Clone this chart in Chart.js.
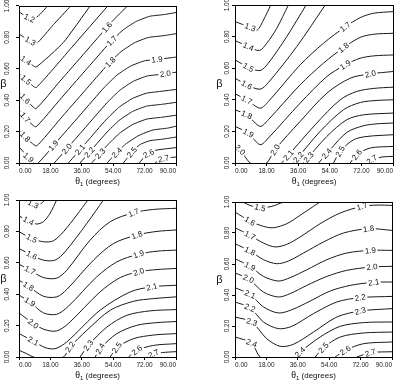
<!DOCTYPE html>
<html>
<head>
<meta charset="utf-8">
<script src="https://cdn.jsdelivr.net/npm/chart.js@4.4.1/dist/chart.umd.min.js"></script>
<style>
html, body { margin: 0; padding: 0; background: #fff; }
#wrap { position: relative; width: 400px; height: 380px; }
.cell { position: absolute; width: 200px; height: 190px; }
</style>
</head>
<body>
<div id="wrap">
  <div class="cell" style="left:0;top:0"><canvas id="c1" width="200" height="190"></canvas></div>
  <div class="cell" style="left:200px;top:0"><canvas id="c2" width="200" height="190"></canvas></div>
  <div class="cell" style="left:0;top:190px"><canvas id="c3" width="200" height="190"></canvas></div>
  <div class="cell" style="left:200px;top:190px"><canvas id="c4" width="200" height="190"></canvas></div>
</div>
<script>
// tick values
var xTicks = [0, 18, 36, 54, 72, 90];
var yTicks = [0, 0.2, 0.4, 0.6, 0.8, 1.0];

// panel A (top left): contour levels, [theta, beta] points, label positions (theta)
var levelsA = [1.2, 1.3, 1.4, 1.5, 1.6, 1.7, 1.8, 1.9, 2.0, 2.1, 2.2, 2.3, 2.4, 2.5, 2.6, 2.7];
var linesA = [
    [[0, 0.962], [4.4, 0.931], [8.2, 0.912], [12.1, 0.947], [16.5, 1.0]],
    [[0, 0.821], [5.4, 0.783], [9.8, 0.758], [19.7, 0.880], [29.7, 1.0]],
    [[0, 0.684], [5.4, 0.642], [9.8, 0.611], [25.5, 0.768], [40.8, 1.0]],
    [[0, 0.568], [5.4, 0.516], [9.8, 0.480], [30.3, 0.737], [50.9, 1.0]],
    [[0, 0.451], [5.3, 0.388], [9.7, 0.346], [23.5, 0.521], [37.8, 0.703], [53.3, 0.900], [62.2, 1.0]],
    [[0, 0.335], [5.3, 0.268], [9.7, 0.230], [23.5, 0.404], [37.8, 0.586], [51.8, 0.763], [59.1, 0.842], [66.8, 0.899], [74.9, 0.934], [83.3, 0.945], [90, 0.958]],
    [[0, 0.209], [5.3, 0.146], [10.1, 0.109], [23.5, 0.279], [37.8, 0.461], [51.0, 0.628], [58.4, 0.708], [66.1, 0.765], [74.1, 0.799], [82.5, 0.810], [90, 0.823]],
    [[0, 0.103], [5.3, 0.036], [10.0, -0.009], [23.5, 0.159], [36.1, 0.319], [48.7, 0.479], [56.1, 0.559], [63.8, 0.616], [71.8, 0.650], [80.2, 0.661], [90, 0.674]],
    [[20.2, 0], [35.0, 0.187], [50.4, 0.383], [57.8, 0.463], [65.5, 0.520], [73.5, 0.554], [82.0, 0.565], [90, 0.578]],
    [[28.3, 0], [39.0, 0.136], [49.8, 0.274], [57.1, 0.353], [64.9, 0.410], [72.9, 0.444], [81.3, 0.456], [90, 0.468]],
    [[35.0, 0], [50.0, 0.191], [57.4, 0.271], [65.1, 0.328], [73.1, 0.362], [81.6, 0.373], [90, 0.386]],
    [[41.7, 0], [50.3, 0.109], [57.6, 0.189], [65.3, 0.246], [73.4, 0.280], [81.8, 0.291], [90, 0.304]],
    [[50.6, 0], [53.7, 0.040], [61.0, 0.119], [68.8, 0.176], [76.8, 0.210], [85.2, 0.222], [90, 0.234]],
    [[59.8, 0], [64.7, 0.068], [69.3, 0.117], [75.1, 0.142], [82.5, 0.152], [90, 0.165]],
    [[69.0, 0], [72.8, 0.051], [77.4, 0.079], [83.1, 0.089], [90, 0.098]],
    [[78.0, 0], [80.8, 0.022], [84.8, 0.032], [90, 0.038]]
];
var labelsA = [[6], [6.5], [4], [4], [3.5, 50.4], [3.5, 53.2], [3.5, 52.3], [5.4, 19.7, 79.1], [27.4, 83.9], [35], [40.4], [46.5], [56.1], [64.7], [74.3], [82.9]];

// panel B (top right)
var levelsB = [1.3, 1.4, 1.5, 1.6, 1.7, 1.8, 1.9, 2.0, 2.1, 2.2, 2.3, 2.4, 2.5, 2.6, 2.7];
var linesB = [
    [[0, 0.895], [8.6, 0.859], [12.7, 0.842], [16.2, 0.905], [20.4, 1.0]],
    [[0, 0.775], [7.6, 0.737], [13.9, 0.712], [18.1, 0.758], [23.8, 0.853], [30.4, 1.0]],
    [[0, 0.653], [7.6, 0.606], [14.3, 0.585], [19.0, 0.632], [29.5, 0.800], [40.5, 1.0]],
    [[0, 0.537], [6.7, 0.495], [14.3, 0.467], [19.0, 0.509], [35.2, 0.737], [51.4, 1.0]],
    [[0, 0.438], [6.7, 0.400], [14.3, 0.347], [19.0, 0.389], [37.1, 0.621], [50.4, 0.758], [62.8, 0.862], [71.3, 0.920], [79.0, 0.948], [90, 0.958]],
    [[0, 0.337], [6.7, 0.305], [14.3, 0.232], [19.0, 0.274], [37.1, 0.495], [50.4, 0.632], [61.8, 0.730], [71.3, 0.795], [79.0, 0.815], [90, 0.821]],
    [[0, 0.232], [7.6, 0.189], [14.3, 0.116], [19.0, 0.158], [37.1, 0.379], [52.3, 0.547], [62.8, 0.621], [71.3, 0.663], [79.0, 0.678], [90, 0.684]],
    [[0, 0.116], [2.9, 0.084], [8.6, 0.0], [13.3, -0.02], [18.1, 0], [22.8, 0.084], [37.1, 0.263], [52.3, 0.442], [65.7, 0.537], [77.1, 0.564], [90, 0.579]],
    [[26.6, 0], [45.7, 0.242], [59.9, 0.400], [69.4, 0.453], [79.0, 0.472], [90, 0.480]],
    [[33.3, 0], [48.5, 0.200], [61.8, 0.337], [71.4, 0.383], [80.9, 0.396], [90, 0.400]],
    [[39.0, 0], [52.3, 0.168], [63.7, 0.274], [73.3, 0.305], [90, 0.316]],
    [[47.6, 0], [54.2, 0.084], [63.7, 0.194], [73.3, 0.236], [80.9, 0.248], [90, 0.253]],
    [[56.1, 0], [59.9, 0.074], [67.5, 0.147], [75.2, 0.168], [90, 0.179]],
    [[65.6, 0], [69.4, 0.053], [77.1, 0.095], [90, 0.105]],
    [[75.2, 0], [78.0, 0.021], [83.7, 0.038], [90, 0.042]]
];
var labelsB = [[8.6], [7.6], [7.6], [6.7], [6.7, 62.8], [6.7, 61.8], [7.6, 62.8], [2.9, 22.8, 77.1], [30.4], [36.1], [41.9], [52.3], [59.9], [69.4], [78.0]];

// panel C (bottom left)
var levelsC = [1.3, 1.4, 1.5, 1.6, 1.7, 1.8, 1.9, 2.0, 2.1, 2.2, 2.3, 2.4, 2.5, 2.6, 2.7];
var linesC = [
    [[3.4, 1.0], [8.2, 0.974], [12.1, 0.974], [14.9, 1.0]],
    [[0, 0.898], [5.4, 0.868], [10.1, 0.847], [14.0, 0.862], [17.8, 0.915], [21.6, 1.0]],
    [[0, 0.798], [7.3, 0.755], [14.0, 0.734], [19.7, 0.740], [25.5, 0.798], [33.1, 0.904], [39.5, 1.0]],
    [[0, 0.691], [7.3, 0.649], [14.0, 0.617], [20.7, 0.617], [26.4, 0.670], [38.9, 0.851], [48.4, 1.0]],
    [[0, 0.591], [6.3, 0.553], [14.0, 0.506], [21.6, 0.502], [27.4, 0.553], [40.8, 0.745], [52.3, 0.862], [65.7, 0.919], [77.2, 0.940], [90, 0.947]],
    [[0, 0.489], [5.4, 0.451], [14.0, 0.387], [21.6, 0.383], [27.4, 0.430], [42.7, 0.617], [54.2, 0.723], [67.6, 0.777], [79.1, 0.800], [90, 0.809]],
    [[0, 0.394], [6.3, 0.351], [14.0, 0.281], [21.6, 0.272], [28.3, 0.323], [44.6, 0.511], [56.1, 0.606], [68.6, 0.655], [79.1, 0.674], [90, 0.681]],
    [[0, 0.281], [8.2, 0.213], [14.9, 0.174], [21.6, 0.166], [28.3, 0.213], [46.5, 0.415], [58.0, 0.506], [68.6, 0.543], [79.1, 0.557], [90, 0.564]],
    [[0, 0.149], [8.2, 0.102], [14.9, 0.060], [20.7, 0.053], [27.4, 0.096], [46.5, 0.298], [63.8, 0.415], [76.2, 0.447], [90, 0.457]],
    [[0, 0.043], [4.4, 0.021], [8.2, 0], [16.9, -0.021], [25.5, 0], [29.3, 0.064], [38.9, 0.170], [52.3, 0.298], [65.7, 0.355], [77.2, 0.372], [90, 0.383]],
    [[35.0, 0], [39.8, 0.074], [50.4, 0.191], [61.9, 0.266], [75.3, 0.294], [90, 0.302]],
    [[43.7, 0], [46.5, 0.053], [56.1, 0.149], [67.6, 0.202], [79.1, 0.219], [90, 0.226]],
    [[52.3, 0], [56.1, 0.060], [65.7, 0.117], [77.2, 0.140], [90, 0.149]],
    [[62.8, 0], [67.6, 0.043], [77.2, 0.074], [90, 0.085]],
    [[73.3, 0], [77.2, 0.021], [83.9, 0.030], [90, 0.034]]
];
var labelsC = [[8.2], [5.4], [7.3], [7.3], [6.3, 65.7], [5.4, 67.6], [6.3, 68.6], [8.2, 68.6], [8.2, 76.2], [29.3], [39.8], [46.5], [56.1], [67.6], [77.2]];

// panel D (bottom right)
var levelsD = [1.5, 1.6, 1.7, 1.8, 1.9, 2.0, 2.1, 2.2, 2.3, 2.4, 2.5, 2.6, 2.7];
var linesD = [
    [[4.4, 1.0], [8.6, 0.978], [14.4, 0.963], [21.1, 0.972], [27.8, 1.0]],
    [[0, 0.935], [8.6, 0.877], [16.3, 0.843], [22.0, 0.834], [29.7, 0.860], [37.3, 0.914], [45.0, 0.972], [48.8, 1.0]],
    [[0, 0.834], [8.6, 0.785], [16.3, 0.735], [23.0, 0.710], [29.7, 0.727], [37.3, 0.774], [48.8, 0.860], [60.3, 0.929], [72.8, 0.972], [81.4, 0.980], [90, 0.978]],
    [[0, 0.731], [8.6, 0.684], [16.3, 0.628], [23.9, 0.602], [30.6, 0.619], [39.3, 0.671], [50.7, 0.742], [62.2, 0.800], [76.6, 0.828], [90, 0.817]],
    [[0, 0.634], [8.6, 0.585], [16.3, 0.520], [24.9, 0.490], [31.6, 0.512], [41.2, 0.563], [52.7, 0.628], [64.1, 0.671], [77.6, 0.688], [90, 0.688]],
    [[0, 0.542], [7.7, 0.505], [16.3, 0.419], [24.9, 0.387], [31.6, 0.409], [41.2, 0.462], [52.7, 0.520], [64.1, 0.559], [78.5, 0.581], [90, 0.585]],
    [[0, 0.447], [8.6, 0.404], [16.3, 0.323], [24.9, 0.284], [32.6, 0.305], [43.1, 0.361], [54.6, 0.426], [66.1, 0.462], [79.5, 0.482], [90, 0.484]],
    [[0, 0.355], [8.6, 0.318], [16.3, 0.226], [24.9, 0.183], [32.6, 0.198], [45.0, 0.280], [58.4, 0.355], [71.8, 0.383], [90, 0.391]],
    [[0, 0.258], [9.6, 0.226], [18.2, 0.118], [25.9, 0.069], [33.5, 0.082], [45.0, 0.161], [58.4, 0.258], [71.8, 0.297], [90, 0.312]],
    [[0, 0.129], [9.6, 0.090], [14.4, 0], [23.9, -0.03], [34.5, 0], [37.3, 0.032], [48.8, 0.129], [60.3, 0.198], [73.7, 0.222], [90, 0.226]],
    [[46.0, 0], [50.7, 0.060], [60.3, 0.129], [73.7, 0.155], [90, 0.161]],
    [[57.4, 0], [63.2, 0.043], [73.7, 0.086], [90, 0.097]],
    [[69.9, 0], [77.6, 0.028], [90, 0.034]]
];
var labelsD = [[14.4], [8.6], [8.6, 72.8], [8.6, 76.6], [8.6, 77.6], [7.7, 78.5], [8.6, 79.5], [8.6, 71.8], [9.6, 71.8], [9.6, 37.3], [50.7], [63.2], [77.6]];

var FONT = '"Liberation Sans", Arial, sans-serif';

// writes the level value on each contour, rotated along the line
var contourLabels = {
    id: 'contourLabels',
    afterDatasetsDraw: function (chart) {
        var ctx = chart.ctx, xs = chart.scales.x, ys = chart.scales.y, a = chart.chartArea;
        ctx.save();
        ctx.beginPath();
        ctx.rect(a.left, a.top, a.right - a.left, a.bottom - a.top);
        ctx.clip();
        ctx.font = '8px ' + FONT;
        ctx.textAlign = 'center';
        ctx.textBaseline = 'middle';
        chart.data.datasets.forEach(function (ds) {
            var d = ds.data;
            ds.labelAt.forEach(function (th) {
                for (var i = 0; i < d.length - 1; i++) {
                    if (d[i].x === d[i + 1].x || (th - d[i].x) * (th - d[i + 1].x) > 0) continue;
                    var t = (th - d[i].x) / (d[i + 1].x - d[i].x);
                    var x0 = xs.getPixelForValue(d[i].x), y0 = ys.getPixelForValue(d[i].y);
                    var x1 = xs.getPixelForValue(d[i + 1].x), y1 = ys.getPixelForValue(d[i + 1].y);
                    var ang = Math.atan2(y1 - y0, x1 - x0);
                    if (ang > Math.PI / 2) ang -= Math.PI;
                    if (ang < -Math.PI / 2) ang += Math.PI;
                    var w = ctx.measureText(ds.label).width;
                    ctx.save();
                    ctx.translate(x0 + t * (x1 - x0), y0 + t * (y1 - y0));
                    ctx.rotate(ang);
                    ctx.fillStyle = '#fff';
                    ctx.fillRect(-w / 2 - 1.5, -3.5, w + 3, 7);
                    ctx.fillStyle = '#111';
                    ctx.fillText(ds.label, 0, 0.5);
                    ctx.restore();
                    break;
                }
            });
        });
        ctx.restore();
    }
};

// box around the plot, beta and theta axis titles
var frame = {
    id: 'frame',
    afterDraw: function (chart) {
        var ctx = chart.ctx, a = chart.chartArea;
        ctx.save();
        ctx.strokeStyle = '#000';
        ctx.lineWidth = 1;
        ctx.strokeRect(Math.round(a.left) + 0.5, Math.round(a.top) + 0.5,
            Math.round(a.right - a.left), Math.round(a.bottom - a.top));
        ctx.fillStyle = '#111';
        ctx.textBaseline = 'middle';
        ctx.textAlign = 'center';
        ctx.font = '11px ' + FONT;
        ctx.fillText('β', a.left - 15.5, (a.top + a.bottom) / 2);

        ctx.textAlign = 'left';
        ctx.textBaseline = 'alphabetic';
        var f1 = '10px "Liberation Serif", serif', f2 = '6px ' + FONT, f3 = '8px ' + FONT;
        ctx.font = f1; var w1 = ctx.measureText('θ').width;
        ctx.font = f2; var w2 = ctx.measureText('1').width;
        ctx.font = f3; var w3 = ctx.measureText(' (degrees)').width;
        var x = (a.left + a.right) / 2 - (w1 + w2 + w3) / 2, y = a.bottom + 20.5;
        ctx.font = f1; ctx.fillText('θ', x, y);
        ctx.font = f2; ctx.fillText('1', x + w1, y + 2);
        ctx.font = f3; ctx.fillText(' (degrees)', x + w1 + w2, y);
        ctx.restore();
    }
};

function makeDatasets(levels, lines, labels, tension) {
    return levels.map(function (lv, i) {
        return {
            label: lv.toFixed(1),
            data: lines[i].map(function (p) { return { x: p[0], y: p[1] }; }),
            labelAt: labels[i],
            showLine: true,
            pointRadius: 0,
            borderColor: '#1a1a1a',
            borderWidth: 1,
            tension: tension,
            fill: false
        };
    });
}

function makeChart(id, levels, lines, labels, lay) {
    return new Chart(document.getElementById(id), {
        type: 'scatter',
        data: { datasets: makeDatasets(levels, lines, labels, lay.tension) },
        options: {
            responsive: false,
            animation: false,
            devicePixelRatio: 1,
            layout: { padding: { left: 0, right: lay.right, top: lay.top, bottom: 0 } },
            plugins: { legend: { display: false }, tooltip: { enabled: false } },
            scales: {
                x: {
                    type: 'linear', min: 0, max: 90,
                    afterBuildTicks: function (s) { s.ticks = xTicks.map(function (v) { return { value: v }; }); },
                    afterFit: function (s) { s.height = lay.xh; },
                    ticks: {
                        callback: function (v) { return v.toFixed(2); },
                        font: { family: FONT, size: 6.5 }, color: '#222',
                        align: 'inner', padding: 1, maxRotation: 0, autoSkip: false
                    },
                    grid: { drawOnChartArea: false, tickLength: 3, color: '#000' },
                    border: { display: false }
                },
                y: {
                    type: 'linear', min: 0, max: 1,
                    afterBuildTicks: function (s) { s.ticks = yTicks.map(function (v) { return { value: v }; }); },
                    afterFit: function (s) { s.width = lay.yw; },
                    ticks: {
                        callback: function (v) { return v.toFixed(2); },
                        font: { family: FONT, size: 6.5 }, color: '#222',
                        minRotation: 90, maxRotation: 90, crossAlign: 'center',
                        // lift the bottom label so it sits inside the axis
                        labelOffset: function (c) { return c.index === 0 ? -6 : 0; },
                        padding: lay.yp, autoSkip: false
                    },
                    grid: { drawOnChartArea: false, tickLength: 3, color: '#000' },
                    border: { display: false }
                }
            }
        },
        plugins: [contourLabels, frame]
    });
}

makeChart('c1', levelsA, linesA, labelsA, { right: 24, top: 5, xh: 27, yw: 19, yp: 2, tension: 0.15 });
makeChart('c2', levelsB, linesB, labelsB, { right: 7, top: 5, xh: 27, yw: 35, yp: -2, tension: 0.3 });
makeChart('c3', levelsC, linesC, labelsC, { right: 24, top: 10, xh: 23, yw: 19, yp: 2, tension: 0.3 });
makeChart('c4', levelsD, linesD, labelsD, { right: 8, top: 12, xh: 23, yw: 35, yp: -2, tension: 0.3 });
</script>
</body>
</html>
